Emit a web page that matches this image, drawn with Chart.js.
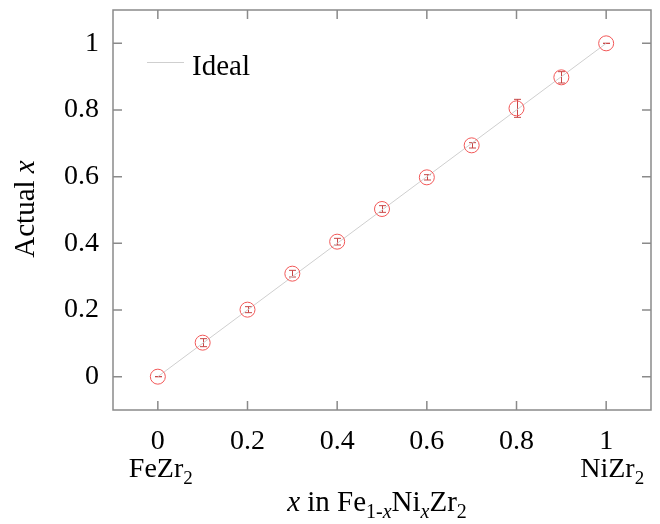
<!DOCTYPE html>
<html>
<head>
<meta charset="utf-8">
<script src="https://cdn.jsdelivr.net/npm/chart.js@4/dist/chart.umd.min.js"></script>
<style>
  html, body { margin: 0; padding: 0; background: #fff; }
  #wrap { width: 660px; height: 524px; }
</style>
</head>
<body>
<div id="wrap"><canvas id="chart" width="660" height="524"></canvas></div>
<script>
// nominal composition x vs measured x
const nominalX = [0, 0.1, 0.2, 0.3, 0.4, 0.5, 0.6, 0.7, 0.8, 0.9, 1.0];
const actualX = [0, 0.102, 0.201, 0.309, 0.405, 0.503, 0.598, 0.694, 0.805, 0.898, 1.0];
const actualErr = [0, 0.012, 0.009, 0.01, 0.01, 0.01, 0.008, 0.008, 0.027, 0.017, 0];
const idealX = [0, 1];
const idealY = [0, 1];
const xTicks = [0, 0.2, 0.4, 0.6, 0.8, 1];
const yTicks = [0, 0.2, 0.4, 0.6, 0.8, 1];

const SERIF = '"Liberation Serif", "DejaVu Serif", serif';
const RED = 'rgb(242, 88, 88)';
const FRAME = '#8a8a8a';

// draw a string made of parts: {t, sub, it}
function richText(ctx, parts, x, y, size, align) {
  const fontOf = p => (p.it ? 'italic ' : '') + (p.sub ? Math.round(size * 0.68) : size) + 'px ' + SERIF;
  const widths = parts.map(p => {
    ctx.font = fontOf(p);
    return ctx.measureText(p.t).width;
  });
  const total = widths.reduce((a, b) => a + b, 0);
  let cx = align === 'center' ? x - total / 2 : align === 'right' ? x - total : x;
  ctx.textAlign = 'left';
  parts.forEach((p, i) => {
    ctx.font = fontOf(p);
    ctx.fillText(p.t, cx, p.sub ? y + size * 0.24 : y);
    cx += widths[i];
  });
}

const decor = {
  id: 'decor',
  beforeDatasetsDraw(chart) {
    const { ctx, scales: { x, y } } = chart;
    ctx.save();
    ctx.strokeStyle = 'rgb(200, 70, 70)';
    ctx.lineWidth = 1;
    nominalX.forEach((v, i) => {
      const px = Math.round(x.getPixelForValue(v)) + 0.5;
      const top = y.getPixelForValue(actualX[i] + actualErr[i]);
      const bot = y.getPixelForValue(actualX[i] - actualErr[i]);
      ctx.beginPath();
      ctx.moveTo(px, top); ctx.lineTo(px, bot);
      ctx.moveTo(px - 3.5, top); ctx.lineTo(px + 3.5, top);
      ctx.moveTo(px - 3.5, bot); ctx.lineTo(px + 3.5, bot);
      ctx.stroke();
    });
    ctx.restore();
  },
  afterDraw(chart) {
    const { ctx, chartArea: a, scales: { x, y } } = chart;
    ctx.save();
    // frame and inward ticks on all four sides
    ctx.strokeStyle = FRAME;
    ctx.lineWidth = 1.5;
    ctx.strokeRect(a.left, a.top, a.right - a.left, a.bottom - a.top);
    ctx.beginPath();
    xTicks.forEach(v => {
      const px = x.getPixelForValue(v);
      ctx.moveTo(px, a.bottom); ctx.lineTo(px, a.bottom - 9);
      ctx.moveTo(px, a.top); ctx.lineTo(px, a.top + 9);
    });
    yTicks.forEach(v => {
      const py = y.getPixelForValue(v);
      ctx.moveTo(a.left, py); ctx.lineTo(a.left + 9, py);
      ctx.moveTo(a.right, py); ctx.lineTo(a.right - 9, py);
    });
    ctx.stroke();

    // legend
    ctx.strokeStyle = '#cfcfcf';
    ctx.lineWidth = 1;
    ctx.beginPath();
    ctx.moveTo(147, 62.5); ctx.lineTo(184, 62.5);
    ctx.stroke();
    ctx.fillStyle = '#000';
    ctx.textBaseline = 'alphabetic';
    richText(ctx, [{ t: 'Ideal' }], 192, 75, 29, 'left');

    // compound names under the end ticks
    richText(ctx, [{ t: 'FeZr' }, { t: '2', sub: true }], x.getPixelForValue(0) + 3, 477, 28, 'center');
    richText(ctx, [{ t: 'NiZr' }, { t: '2', sub: true }], x.getPixelForValue(1) + 6, 477, 28, 'center');

    // x axis title
    richText(ctx, [
      { t: 'x', it: true }, { t: ' in Fe' }, { t: '1-', sub: true }, { t: 'x', sub: true, it: true },
      { t: 'Ni' }, { t: 'x', sub: true, it: true }, { t: 'Zr' }, { t: '2', sub: true }
    ], 377, 511, 29, 'center');

    // y axis title
    ctx.translate(34, 209);
    ctx.rotate(-Math.PI / 2);
    richText(ctx, [{ t: 'Actual ' }, { t: 'x', it: true }], 0, 0, 29, 'center');
    ctx.restore();
  }
};

function build() {
  const ctx = document.getElementById('chart').getContext('2d');
  new Chart(ctx, {
    type: 'scatter',
    data: {
      datasets: [
        {
          label: 'Ideal',
          data: idealX.map((v, i) => ({ x: v, y: idealY[i] })),
          showLine: true,
          borderColor: '#cfcfcf',
          borderWidth: 1,
          pointRadius: 0,
          order: 2
        },
        {
          label: 'Measured',
          data: nominalX.map((v, i) => ({ x: v, y: actualX[i] })),
          showLine: false,
          pointStyle: 'circle',
          pointRadius: 7.5,
          borderColor: RED,
          backgroundColor: 'rgba(0,0,0,0)',
          borderWidth: 1,
          order: 1
        }
      ]
    },
    options: {
      responsive: false,
      animation: false,
      layout: { padding: { top: 10, right: 9, left: 0, bottom: 0 } },
      plugins: { legend: { display: false }, tooltip: { enabled: false } },
      scales: {
        x: {
          type: 'linear',
          min: -0.1,
          max: 1.1,
          afterBuildTicks: s => { s.ticks = xTicks.map(v => ({ value: v })); },
          afterFit: s => { s.height = 114; s.paddingLeft = 0; s.paddingRight = 0; },
          grid: { display: false, drawTicks: false },
          border: { display: false },
          ticks: {
            padding: 15,
            color: '#000',
            font: { family: SERIF, size: 28 },
            callback: v => String(Math.round(v * 10) / 10)
          }
        },
        y: {
          type: 'linear',
          min: -0.1,
          max: 1.1,
          afterBuildTicks: s => { s.ticks = yTicks.map(v => ({ value: v })); },
          afterFit: s => { s.width = 113; s.paddingTop = 0; s.paddingBottom = 0; },
          grid: { display: false, drawTicks: false },
          border: { display: false },
          ticks: {
            padding: 14,
            color: '#000',
            font: { family: SERIF, size: 28 },
            callback: v => String(Math.round(v * 10) / 10)
          }
        }
      }
    },
    plugins: [decor]
  });
}

document.fonts.load('28px "Liberation Serif"').then(build, build);
</script>
</body>
</html>
